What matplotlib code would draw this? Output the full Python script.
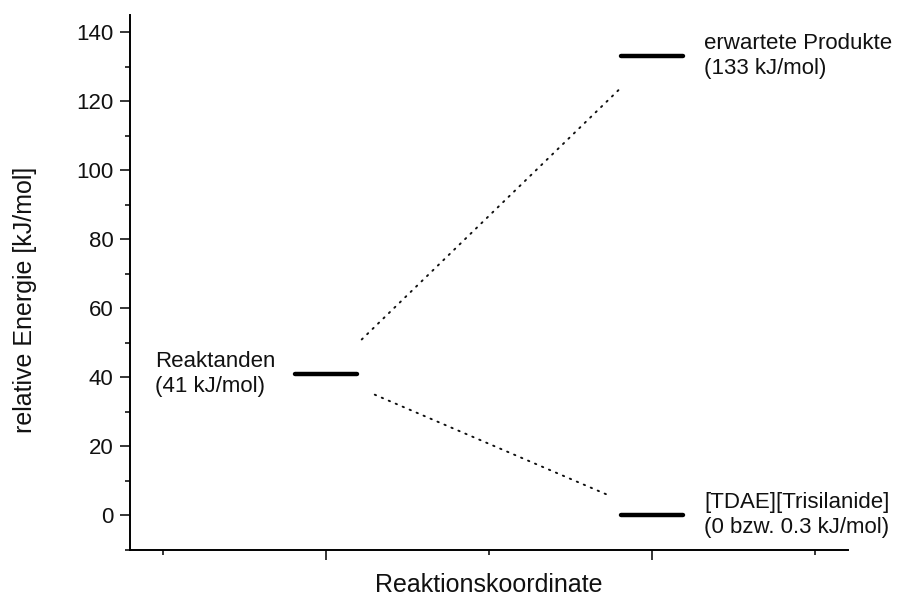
import matplotlib
matplotlib.use('Agg')
import matplotlib.pyplot as plt
from matplotlib.ticker import FixedLocator, NullFormatter

plt.rcParams['font.family'] = ['Liberation Sans', 'DejaVu Sans']

# ---------- Data ----------
level_names = ['Reaktanden\n(41 kJ/mol)',
               'erwartete Produkte\n(133 kJ/mol)',
               '[TDAE][Trisilanide]\n(0 bzw. 0.3 kJ/mol)']
level_x = [2.0, 4.0, 4.0]          # position on the reaction coordinate
level_energy = [41, 133, 0]        # relative energy in kJ/mol
label_x = [0.955, 4.32, 4.32]
level_halfwidth = 0.19

# dotted connectors (reaction coordinate, energy)
conn_up_x = [2.22, 3.81]
conn_up_y = [51, 124]
conn_down_x = [2.30, 3.75]
conn_down_y = [35, 5.5]

yticks_major = [0, 20, 40, 60, 80, 100, 120, 140]
yticks_minor = [-10, 10, 30, 50, 70, 90, 110, 130]
xticks_major = [2, 4]
xticks_minor = [1, 3, 5]

# ---------- Plot ----------
fig = plt.figure(figsize=(8.99, 5.96), dpi=100)
ax = fig.add_axes([0.1446, 0.0772, 0.7987, 0.8976])

for x, e in zip(level_x, level_energy):
    ax.plot([x - level_halfwidth, x + level_halfwidth], [e, e],
            color='black', linewidth=3.2, solid_capstyle='round', zorder=3)

for xs, ys in [(conn_up_x, conn_up_y), (conn_down_x, conn_down_y)]:
    ax.plot(xs, ys, color='#111111', linewidth=1.4,
            linestyle=(0, (0.7, 3.2)), dash_capstyle='round')

# level labels
for lx, e, name in zip(label_x, level_energy, level_names):
    ax.text(lx, e, name, fontsize=16, ha='left', va='center',
            linespacing=1.25, color='#111111')

ax.set_xlim(0.8, 5.2)
ax.set_ylim(-10, 145)
ax.yaxis.set_major_locator(FixedLocator(yticks_major))
ax.yaxis.set_minor_locator(FixedLocator(yticks_minor))
ax.xaxis.set_major_locator(FixedLocator(xticks_major))
ax.xaxis.set_minor_locator(FixedLocator(xticks_minor))
ax.xaxis.set_major_formatter(NullFormatter())

ax.tick_params(axis='both', which='major', direction='out', length=7,
               width=1.1, labelsize=16, pad=5, labelcolor='#111111')
ax.tick_params(axis='both', which='minor', direction='out', length=3.5,
               width=1.1)

ax.set_ylabel('relative Energie [kJ/mol]', fontsize=18, color='#111111')
ax.yaxis.set_label_coords(-0.129, 0.467)
ax.set_xlabel('Reaktionskoordinate', fontsize=18, color='#111111',
              va='baseline')
ax.xaxis.set_label_coords(0.5, -0.0785)

ax.spines['top'].set_visible(False)
ax.spines['right'].set_visible(False)
ax.spines['left'].set_linewidth(1.4)
ax.spines['bottom'].set_linewidth(1.4)

fig.savefig('out.png', dpi=100)
